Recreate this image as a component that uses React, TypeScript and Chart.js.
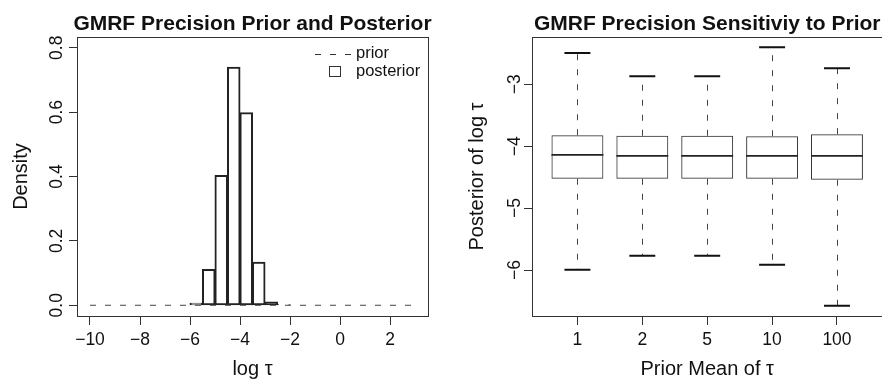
import React, { useEffect, useRef } from 'react';
import { Chart, registerables } from 'chart.js';

Chart.register(...registerables);

// ---------- Left panel data ----------
const histBinStarts = [-6, -5.5, -5, -4.5, -4, -3.5, -3, -2.5];
const histBinWidth = 0.5;
const posteriorDensity = [0.006, 0.111, 0.403, 0.739, 0.598, 0.134, 0.01, 0.002];
const priorX = [-10, 3.2];
const priorY = [0, 0];
const leftXTicks = [-10, -8, -6, -4, -2, 0, 2];
const leftYTicks = [0, 0.2, 0.4, 0.6, 0.8];
const leftTitle = 'GMRF Precision Prior and Posterior';
const leftXLabel = 'log \u03C4';
const leftYLabel = 'Density';
const legendLabels = ['prior', 'posterior'];

// ---------- Right panel data ----------
const priorMeans = ['1', '2', '5', '10', '100'];
const whiskerLow = [-5.995, -5.769, -5.769, -5.915, -6.576];
const quart1 = [-4.526, -4.526, -4.526, -4.526, -4.542];
const medians = [-4.139, -4.155, -4.155, -4.155, -4.155];
const quart3 = [-3.823, -3.832, -3.832, -3.839, -3.806];
const whiskerHigh = [-2.495, -2.871, -2.871, -2.403, -2.742];
const rightYTicks = [-6, -5, -4, -3];
const rightTitle = 'GMRF Precision Sensitiviy to Prior';
const rightXLabel = 'Prior Mean of \u03C4';
const rightYLabel = 'Posterior of log \u03C4';

const FONT = '"Liberation Sans", Arial, Helvetica, sans-serif';
const INK = '#111';
const fmtNum = (v: number, d = 0) => {
  const s = Math.abs(v).toFixed(d);
  return v < 0 ? '\u2212' + s : s;
};

function drawRotated(ctx: CanvasRenderingContext2D, text: string, x: number, y: number) {
  ctx.save();
  ctx.translate(x, y);
  ctx.rotate(-Math.PI / 2);
  ctx.fillText(text, 0, 0);
  ctx.restore();
}

function drawFrame(chart: any) {
  const { ctx, chartArea: a } = chart;
  ctx.save();
  ctx.strokeStyle = '#333';
  ctx.lineWidth = 1;
  ctx.strokeRect(Math.round(a.left) + 0.5, Math.round(a.top) + 0.5, Math.round(a.right - a.left), Math.round(a.bottom - a.top));
  ctx.restore();
}

function drawTitles(chart: any, title: string, xLabel: string, yLabel: string, yTicks: number[], dec: number, tickX: number, yLabX: number) {
  const { ctx, chartArea: a, scales } = chart;
  const cx = (a.left + a.right) / 2;
  const cy = (a.top + a.bottom) / 2;
  ctx.save();
  ctx.fillStyle = INK;
  ctx.textAlign = 'center';
  ctx.textBaseline = 'alphabetic';
  ctx.font = `bold 21px ${FONT}`;
  ctx.fillText(title, cx, 30);
  ctx.font = `20px ${FONT}`;
  ctx.fillText(xLabel, cx, 375);
  drawRotated(ctx, yLabel, yLabX, cy);
  ctx.font = `17.5px ${FONT}`;
  yTicks.forEach((v) => {
    drawRotated(ctx, fmtNum(v, dec), tickX, scales.y.getPixelForValue(v));
  });
  ctx.restore();
}

const leftDecor = {
  id: 'leftDecor',
  afterDraw(chart: any) {
    drawFrame(chart);
    drawTitles(chart, leftTitle, leftXLabel, leftYLabel, leftYTicks, 1, 61.5, 27);
    const { ctx } = chart;
    ctx.save();
    // legend
    ctx.strokeStyle = '#333';
    ctx.lineWidth = 1;
    ctx.setLineDash([6, 9]);
    ctx.beginPath();
    ctx.moveTo(315, 54.5);
    ctx.lineTo(351, 54.5);
    ctx.stroke();
    ctx.setLineDash([]);
    ctx.strokeRect(329.5, 66.5, 11, 10);
    ctx.fillStyle = INK;
    ctx.font = `16.5px ${FONT}`;
    ctx.textAlign = 'left';
    ctx.textBaseline = 'alphabetic';
    ctx.fillText(legendLabels[0], 356, 57.5);
    ctx.fillText(legendLabels[1], 356, 75.5);
    ctx.restore();
  },
};

const rightDecor = {
  id: 'rightDecor',
  afterDatasetsDraw(chart: any) {
    const { ctx, scales } = chart;
    const xs = scales.x;
    const ys = scales.y;
    ctx.save();
    priorMeans.forEach((_, i) => {
      const c = i + 1;
      const px = Math.round(xs.getPixelForValue(c)) + 0.5;
      // whiskers
      ctx.strokeStyle = '#444';
      ctx.lineWidth = 1;
      ctx.setLineDash([6, 9]);
      ctx.beginPath();
      ctx.moveTo(px, ys.getPixelForValue(quart3[i]));
      ctx.lineTo(px, ys.getPixelForValue(whiskerHigh[i]));
      ctx.moveTo(px, ys.getPixelForValue(quart1[i]));
      ctx.lineTo(px, ys.getPixelForValue(whiskerLow[i]));
      ctx.stroke();
      ctx.setLineDash([]);
      // caps
      ctx.strokeStyle = '#111';
      ctx.lineWidth = 2;
      ctx.beginPath();
      [whiskerHigh[i], whiskerLow[i]].forEach((w) => {
        const py = ys.getPixelForValue(w);
        ctx.moveTo(xs.getPixelForValue(c - 0.2), py);
        ctx.lineTo(xs.getPixelForValue(c + 0.2), py);
      });
      ctx.stroke();
      // median
      ctx.strokeStyle = '#222';
      ctx.lineWidth = 1.8;
      ctx.beginPath();
      const my = ys.getPixelForValue(medians[i]);
      ctx.moveTo(xs.getPixelForValue(c - 0.4), my);
      ctx.lineTo(xs.getPixelForValue(c + 0.4), my);
      ctx.stroke();
    });
    ctx.restore();
  },
  afterDraw(chart: any) {
    drawFrame(chart);
    drawTitles(chart, rightTitle, rightXLabel, rightYLabel, rightYTicks, 0, 519.5 - 441, 483 - 441);
  },
};

const tickFont = { family: FONT, size: 17.5, lineHeight: 1.2 };

export default function App() {
  const leftRef = useRef<HTMLCanvasElement>(null);
  const rightRef = useRef<HTMLCanvasElement>(null);

  useEffect(() => {
    const left = new Chart(leftRef.current as HTMLCanvasElement, {
      type: 'bar',
      data: {
        datasets: [
          {
            type: 'line',
            label: legendLabels[0],
            data: priorX.map((x, i) => ({ x, y: priorY[i] })),
            borderColor: '#444',
            borderWidth: 1,
            borderDash: [6, 9],
            pointRadius: 0,
            fill: false,
            order: 0,
          } as any,
          {
            type: 'bar',
            label: legendLabels[1],
            data: histBinStarts.map((s, i) => ({ x: s + histBinWidth / 2, y: posteriorDensity[i] })),
            backgroundColor: 'rgba(255,255,255,0)',
            borderColor: '#222',
            borderWidth: 1,
            borderSkipped: false,
            inflateAmount: 0.5,
            barPercentage: 1,
            categoryPercentage: 1,
            order: 1,
          } as any,
        ],
      },
      options: {
        animation: false,
        responsive: false,
        devicePixelRatio: 1,
        layout: { padding: { top: 37, right: 13, left: 0, bottom: 0 } },
        plugins: { legend: { display: false }, title: { display: false }, tooltip: { enabled: false } },
        scales: {
          x: {
            type: 'linear',
            offset: false,
            min: -10.52,
            max: 3.52,
            afterBuildTicks: (s: any) => {
              s.ticks = leftXTicks.map((v) => ({ value: v }));
            },
            afterFit: (s: any) => {
              s.height = 64;
            },
            grid: { offset: false, drawOnChartArea: false, drawTicks: true, tickLength: 9, color: '#333', lineWidth: 1 },
            border: { display: false },
            ticks: {
              font: tickFont,
              color: INK,
              padding: 5,
              maxRotation: 0,
              autoSkip: false,
              callback: (v: any) => fmtNum(Number(v)),
            },
          },
          y: {
            type: 'linear',
            min: -0.0333,
            max: 0.8333,
            afterBuildTicks: (s: any) => {
              s.ticks = leftYTicks.map((v) => ({ value: v }));
            },
            afterFit: (s: any) => {
              s.width = 77;
            },
            grid: { drawOnChartArea: false, drawTicks: true, tickLength: 8, color: '#333', lineWidth: 1 },
            border: { display: false },
            ticks: { display: false },
          },
        },
      } as any,
      plugins: [leftDecor],
    });

    const right = new Chart(rightRef.current as HTMLCanvasElement, {
      type: 'bar',
      data: {
        datasets: [
          {
            label: 'box',
            data: priorMeans.map((_, i) => ({ x: i + 1, y: [quart1[i], quart3[i]] })),
            backgroundColor: 'rgba(255,255,255,0)',
            borderColor: '#333',
            borderWidth: 1,
            borderSkipped: false,
            barPercentage: 0.8,
            categoryPercentage: 1,
          } as any,
        ],
      },
      options: {
        animation: false,
        responsive: false,
        devicePixelRatio: 1,
        layout: { padding: { top: 37, right: 18.6, left: 0, bottom: 0 } },
        plugins: { legend: { display: false }, title: { display: false }, tooltip: { enabled: false } },
        scales: {
          x: {
            type: 'linear',
            offset: false,
            min: 0.3,
            max: 5.7,
            afterBuildTicks: (s: any) => {
              s.ticks = priorMeans.map((_, i) => ({ value: i + 1 }));
            },
            afterFit: (s: any) => {
              s.height = 64;
            },
            grid: { offset: false, drawOnChartArea: false, drawTicks: true, tickLength: 9, color: '#333', lineWidth: 1 },
            border: { display: false },
            ticks: {
              font: tickFont,
              color: INK,
              padding: 5,
              maxRotation: 0,
              autoSkip: false,
              callback: (v: any) => priorMeans[Math.round(Number(v)) - 1] ?? '',
            },
          },
          y: {
            type: 'linear',
            min: -6.742,
            max: -2.237,
            afterBuildTicks: (s: any) => {
              s.ticks = rightYTicks.map((v) => ({ value: v }));
            },
            afterFit: (s: any) => {
              s.width = 91;
            },
            grid: { drawOnChartArea: false, drawTicks: true, tickLength: 8, color: '#333', lineWidth: 1 },
            border: { display: false },
            ticks: { display: false },
          },
        },
      } as any,
      plugins: [rightDecor],
    });

    return () => {
      left.destroy();
      right.destroy();
    };
  }, []);

  return (
    <div
      style={{
        position: 'fixed',
        left: 0,
        top: 0,
        width: 882,
        height: 380,
        overflow: 'hidden',
        background: '#fff',
      }}
    >
      <canvas ref={leftRef} width={441} height={380} style={{ position: 'absolute', left: 0, top: 0, width: 441, height: 380 }} />
      <canvas ref={rightRef} width={460} height={380} style={{ position: 'absolute', left: 441, top: 0, width: 460, height: 380 }} />
    </div>
  );
}
